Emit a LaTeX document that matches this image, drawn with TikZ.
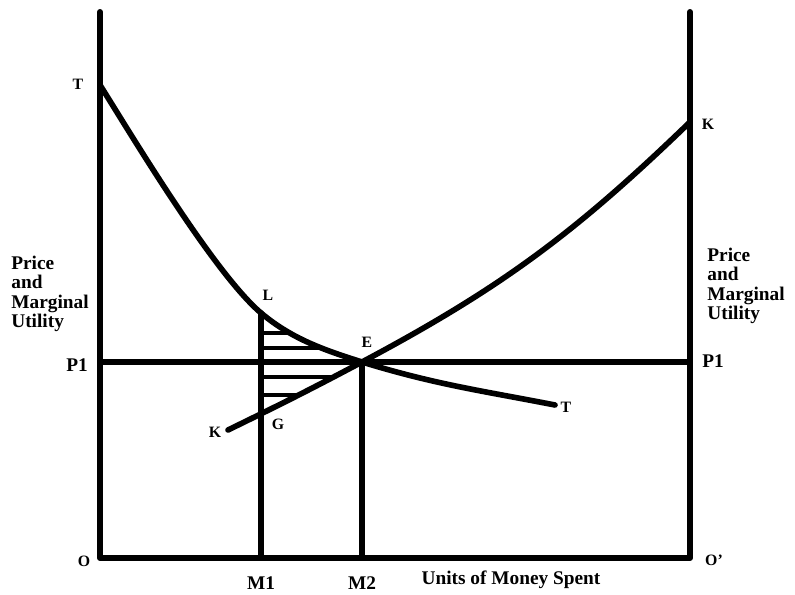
\documentclass[tikz,border=0pt]{standalone}
\usepackage{fontspec}
\setmainfont{Liberation Serif}

\begin{document}
\begin{tikzpicture}[x=0.2mm, y=0.2mm, line join=round, line cap=round,
                    every node/.style={font=\bfseries\fontsize{11}{11}\selectfont},
                    eje/.style={line width=3.4pt},
                    curva/.style={line width=3.2pt},
                    rayado/.style={line width=2.8pt},
                    letra/.style={font=\bfseries\fontsize{9}{9}\selectfont}]

  %--- parameters (1 unit = 1 px) ---
  \def\XL{100}   % left axis
  \def\XR{690}   % right axis
  \def\YB{36}    % base line
  \def\YT{582}   % top of axes
  \def\YP{232}   % price level P1
  \def\XA{261}   % M1
  \def\XB{362}   % M2

  \useasboundingbox (0,0) rectangle (795,594);

  %--- points ---
  \coordinate (Ttop) at (\XL,509);
  \coordinate (L)    at (\XA,281);
  \coordinate (E)    at (\XB,\YP);
  \coordinate (Tend) at (555,189);
  \coordinate (Kbot) at (228,164);
  \coordinate (Ktop) at (\XR,472);
  \coordinate (G)    at (\XA,181);

  %--- hatched area between L, E and G ---
  \begin{scope}
    \clip (L) .. controls (292,255) and (324,244) .. (E) -- (G) -- cycle;
    \foreach \y in {261,246,217,199}
      \draw[rayado] (\XA,\y) -- (400,\y);
  \end{scope}

  %--- axes ---
  \draw[eje] (\XL,\YT) -- (\XL,\YB) -- (\XR,\YB) -- (\XR,\YT);
  \draw[eje] (\XL,\YP) -- (\XR,\YP);
  \draw[eje] (L) -- (\XA,\YB);
  \draw[eje] (E) -- (\XB,\YB);

  %--- curves ---
  \draw[curva] (Ttop) .. controls (132,458) and (214,321) .. (L)
      .. controls (292,255) and (324,244) .. (E)
      to[out=-17,in=169] (Tend);
  \draw[curva] (Kbot) to[out=26,in=-152] (E) to[out=28,in=-136] (Ktop);

  %--- labels ---
  \node[letra] (lT1) at (78,510) {T};
  \node[letra] (lT2) at (566,187) {T};
  \node[letra] (lK1) at (215,162) {K};
  \node[letra] (lK2) at (708,470) {K};
  \node[letra] (lL)  at (268,299) {L};
  \node[letra] (lE)  at (367,252) {E};
  \node[letra] (lG)  at (278,170) {G};
  \node[letra] (lO)  at (84,33) {O};
  \node[letra] (lO2) at (714,34) {O'};
  \node (lP1a) at (77,229) {P1};
  \node (lP1b) at (713,233) {P1};
  \node (lM1) at (\XA,11) {M1};
  \node (lM2) at (\XB,11) {M2};
  \node (lU)  at (511,14) {Units of Money Spent};
  \node[anchor=west, align=left, inner sep=0pt] (lPa) at (11,300)
      {Price\\and\\Marginal\\Utility};
  \node[anchor=west, align=left, inner sep=0pt] (lPb) at (707,308)
      {Price\\and\\Marginal\\Utility};

\end{tikzpicture}
\end{document}
